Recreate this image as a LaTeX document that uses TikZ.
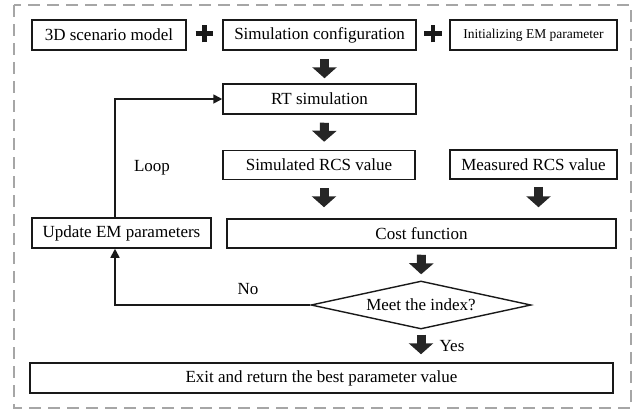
\documentclass[tikz,border=0pt]{standalone}
\usepackage{fontspec}
\setmainfont{Liberation Serif}
\usetikzlibrary{arrows.meta, shapes.geometric, shapes.misc}

\begin{document}
\begin{tikzpicture}[x=1pt, y=-1pt]
        \tikzset{box/.style = {shape=rectangle, draw=black!90, line width=1.5pt, inner sep=0pt, minimum height=30pt, font=\fontsize{17}{20}\selectfont}}
        \tikzset{decision/.style = {shape=diamond, draw=black!90, line width=1.4pt, inner sep=0pt, aspect=4.6, minimum width=220pt, minimum height=48pt, font=\fontsize{17}{20}\selectfont}}
        \tikzset{tag/.style = {inner sep=0pt, font=\fontsize{17}{20}\selectfont}}
        \tikzset{plussign/.style = {shape=cross out, draw=black!90, line width=4.6pt, minimum size=7.8pt, inner sep=0pt, rotate=45}}
        \tikzset{edge/.style = {line width=1.7pt, draw=black!90, -{Triangle[length=9pt,width=9pt]}}}
        \tikzset{bigarrow/.style = {line width=9pt, draw=black!85, -{Triangle[length=11pt,width=24pt]}}}

        \useasboundingbox (0,0) rectangle (644,410);
        \draw[gray!70, line width=1.5pt, dash pattern=on 12pt off 7pt] (14,5) rectangle (631,408);

        \node[box, minimum width=154pt] (model) at (109,35) {3D scenario model};
        \node[plussign] (plus1) at (204.5,33.5) {};
        \node[box, minimum width=193pt] (config) at (319.5,35) {Simulation configuration};
        \node[plussign] (plus2) at (433,33.5) {};
        \node[box, minimum width=167pt, font=\fontsize{13.5}{16}\selectfont] (init) at (533.5,35) {Initializing EM parameter};
        \node[box, minimum width=193pt] (rt) at (319.5,99) {RT simulation};
        \node[box, minimum width=192pt, minimum height=29pt] (sim) at (319,165) {Simulated RCS value};
        \node[box, minimum width=167pt, minimum height=29pt] (meas) at (533.5,164.5) {Measured RCS value};
        \node[box, minimum width=179pt] (update) at (121.5,233) {Update EM parameters};
        \node[box, minimum width=389pt, minimum height=29pt] (cost) at (421.5,233.5) {Cost function};
        \node[decision] (dec) at (421,305) {Meet the index?};
        \node[box, minimum width=583pt] (exit) at (321.5,378) {Exit and return the best parameter value};

        \node[tag] (loop) at (152,168) {Loop};
        \node[tag] (no) at (248,289) {No};
        \node[tag] (yes) at (452,346) {Yes};

        \draw[bigarrow, shorten <=8pt, shorten >=5pt] ([xshift=5pt]config.south) to ([xshift=5pt]rt.north);
        \draw[bigarrow, shorten <=8pt, shorten >=8pt] ([xshift=5pt]rt.south) to ([xshift=5pt]sim.north);
        \draw[bigarrow, shorten <=8pt, shorten >=11pt] ([xshift=5pt]sim.south) to ([xshift=5pt]sim.south |- cost.north);
        \draw[bigarrow, shorten <=7pt, shorten >=11pt] ([xshift=5pt]meas.south) to ([xshift=5pt]meas.south |- cost.north);
        \draw[bigarrow, shorten <=6pt, shorten >=6pt] (cost.south) to (dec.north);
        \draw[bigarrow, shorten <=5pt, shorten >=8pt] (dec.south) to (dec.south |- exit.north);

        \draw[edge] ([xshift=-6.5pt]update.north) |- (rt.west);
        \draw[edge] (dec.west) -| ([xshift=-6.5pt]update.south);
      \end{tikzpicture}
\end{document}
